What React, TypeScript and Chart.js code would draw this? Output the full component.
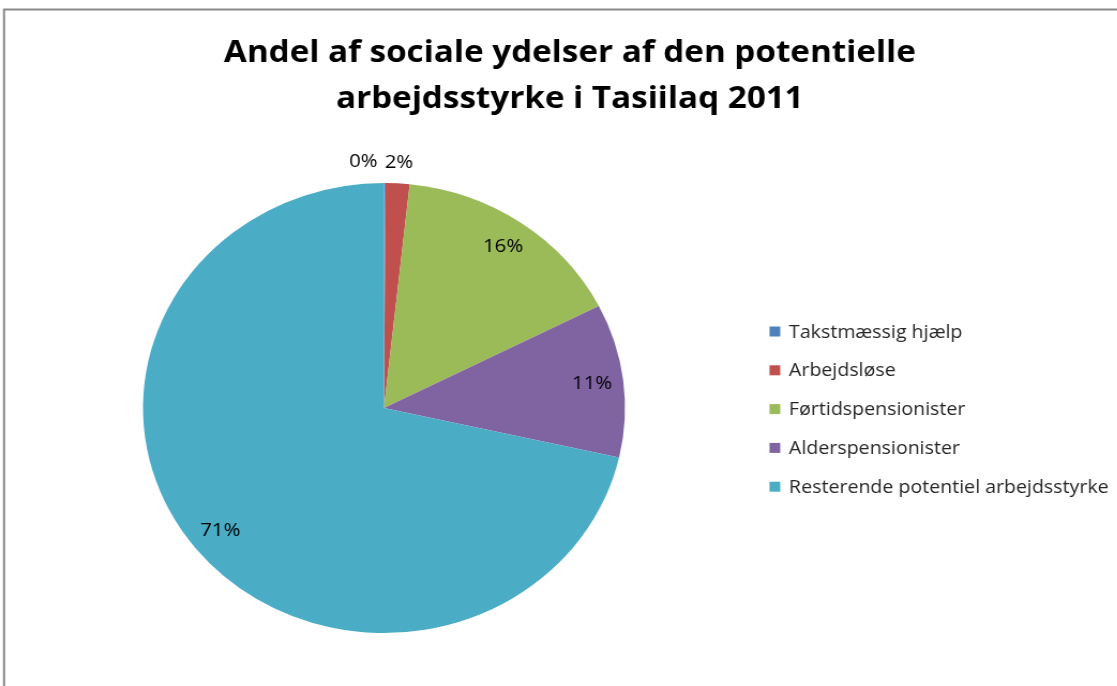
import React, { useEffect, useRef } from "react";
import { Chart, registerables } from "chart.js";

Chart.register(...registerables);

const titleLines = ["Andel af sociale ydelser af den potentielle", "arbejdsstyrke i Tasiilaq 2011"];
const categories = [
  "Takstmæssig hjælp",
  "Arbejdsløse",
  "Førtidspensionister",
  "Alderspensionister",
  "Resterende potentiel arbejdsstyrke",
];
const shares = [0.1, 1.6, 15.8, 11.0, 71.4];
const sliceColors = ["#4F81BD", "#C0504D", "#9BBB59", "#8064A2", "#4BACC6"];

const STRETCH = 241 / 225;
const W = Math.round(1117 / STRETCH);
const H = 686;
const FONT = "'Open Sans', 'Noto Sans', sans-serif";

const overlay = {
  id: "overlay",
  afterDraw(chart: any) {
    const ctx = chart.ctx;
    ctx.save();
    // frame
    ctx.strokeStyle = "#8a8a8a";
    ctx.lineWidth = 2;
    ctx.beginPath();
    ctx.moveTo(3.8, H + 5);
    ctx.lineTo(3.8, 9.5);
    ctx.lineTo(W + 5, 9.5);
    ctx.stroke();

    // title
    ctx.fillStyle = "#000";
    ctx.textAlign = "center";
    ctx.textBaseline = "alphabetic";
    ctx.font = `bold 31px ${FONT}`;
    ctx.fillText(titleLines[0], 532, 62);
    ctx.fillText(titleLines[1], 532, 108);

    // legend
    const lx = 769.5 / STRETCH;
    const tx = 789 / STRETCH;
    ctx.font = `18.3px ${FONT}`;
    ctx.textAlign = "left";
    categories.forEach((c, i) => {
      const y = 331.5 + i * 38.8;
      ctx.fillStyle = sliceColors[i];
      ctx.fillRect(lx, y - 5, 10, 10);
      ctx.fillStyle = "#262626";
      ctx.fillText(c, tx, y + 6);
    });

    // data labels
    const meta = chart.getDatasetMeta(0);
    const total = shares.reduce((a, b) => a + b, 0);
    ctx.font = `19px ${FONT}`;
    ctx.textBaseline = "middle";
    ctx.fillStyle = "#000";
    meta.data.forEach((arc: any, i: number) => {
      const p = arc.getProps(["x", "y", "startAngle", "endAngle", "outerRadius"], true);
      const mid = (p.startAngle + p.endAngle) / 2;
      const pct = Math.round((shares[i] / total) * 100) + "%";
      if (shares[i] / total < 0.05) {
        const r = p.outerRadius + 21;
        const x = p.x + Math.cos(mid) * r;
        const y = p.y + Math.sin(mid) * r;
        if (shares[i] / total < 0.01) {
          ctx.textAlign = "right";
          ctx.fillText(pct, p.x - 6, p.y - p.outerRadius - 21);
        } else {
          ctx.textAlign = "center";
          ctx.fillText(pct, x, y);
        }
      } else {
        const r = p.outerRadius * 0.87;
        ctx.textAlign = "center";
        ctx.fillText(pct, p.x + Math.cos(mid) * r, p.y + Math.sin(mid) * r);
      }
    });
    ctx.restore();
  },
};

export default function App() {
  const ref = useRef<HTMLCanvasElement>(null);
  useEffect(() => {
    document.body.style.margin = "0";
    const chart = new Chart(ref.current!, {
      type: "pie",
      data: {
        labels: categories,
        datasets: [
          {
            data: shares,
            backgroundColor: sliceColors,
            borderWidth: 0,
          },
        ],
      },
      options: {
        animation: false,
        responsive: false,
        maintainAspectRatio: false,
        layout: { padding: { left: 133.5, right: W - 583.5, top: 183, bottom: H - 633 } },
        plugins: {
          legend: { display: false },
          title: { display: false },
          tooltip: { enabled: false },
        },
      },
      plugins: [overlay],
    });
    return () => chart.destroy();
  }, []);
  return (
    <div style={{ width: 1117, height: 686, overflow: "hidden", background: "#fff" }}>
      <div style={{ width: W, height: H, transform: `scaleX(${STRETCH})`, transformOrigin: "0 0" }}>
        <canvas ref={ref} width={W} height={H} style={{ display: "block" }} />
      </div>
    </div>
  );
}
